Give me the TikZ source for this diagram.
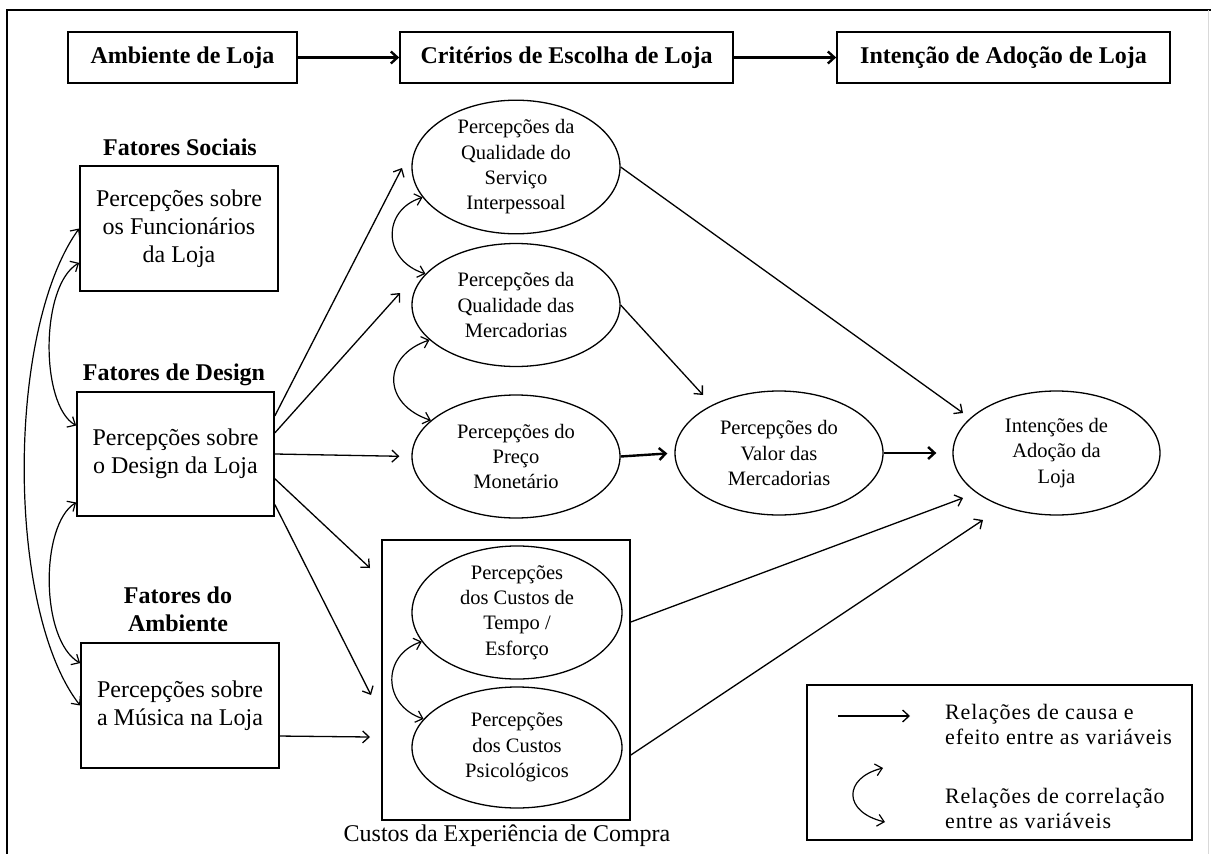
\documentclass[tikz,border=0pt]{standalone}
\usepackage{fontspec}
\setmainfont{Liberation Serif}
\newfontfamily\lgfamily[LetterSpace=4]{Liberation Serif}
\usetikzlibrary{arrows.meta,shapes.geometric,calc}

\newcommand\hdfont{\fontsize{24}{28}\selectfont\bfseries}
\newcommand\bxfont{\fontsize{24}{28}\selectfont}
\newcommand\elfont{\fontsize{20.5}{25.3}\selectfont}
\newcommand\lgfont{\lgfamily\fontsize{22}{25.5}\selectfont}

\begin{document}
\begin{tikzpicture}[x=1pt,y=-1pt,
  barb/.tip={Straight Barb[length=6.5pt,width=12pt]},
  box/.style={draw, line width=1.7pt, inner sep=0pt, align=center},
  hdbox/.style={box, font=\hdfont, minimum height=51pt},
  vbox/.style={box, font=\bxfont, minimum width=198pt, minimum height=125pt},
  ell/.style={draw, ellipse, line width=1.3pt, inner sep=0pt, align=center,
              font=\elfont, minimum width=208pt, minimum height=123pt},
  lbl/.style={font=\hdfont, align=center, inner sep=0pt},
  cause/.style={-barb, line width=1.3pt},
  strong/.style={-barb, line width=2.4pt},
  corr/.style={barb-barb, line width=1.2pt},
]
\useasboundingbox (0,0) rectangle (1211,854);
\fill[white] (0,0) rectangle (1211,854);

% outer frame
\draw[line width=2pt] (7,854) -- (7,10) -- (1211,10);
\draw[black!15, line width=1pt] (1208,10) -- (1208,854);

% header row
\node[hdbox, minimum width=229pt] (h1) at (182.5,57.5) {Ambiente de Loja};
\node[hdbox, minimum width=333pt] (h2) at (566.5,57.5) {Critérios de Escolha de Loja};
\node[hdbox, minimum width=333pt] (h3) at (1003.5,57.5) {Intenção de Adoção de Loja};
\draw[strong] (h1) -- (h2);
\draw[strong] (h2) -- (h3);

% left column: environment factors
\node[lbl] (lsoc) at (180,147) {Fatores Sociais};
\node[vbox] (soc) at (179,228.5) {Percepções sobre\\os Funcionários\\da Loja};
\node[lbl] (ldes) at (174,375) {Fatores de Design};
\node[vbox, minimum width=197pt, minimum height=124pt] (des) at (175.5,454) {Percepções sobre\\o Design da Loja};
\node[lbl] (lamb) at (178,609) {Fatores do\\Ambiente};
\node[vbox] (mus) at (180,705.5) {Percepções sobre\\a Música na Loja};

% store choice criteria
\node[ell, minimum height=122pt] (e1) at (516,167) {Percepções da\\Qualidade do\\Serviço\\Interpessoal};
\node[ell] (e2) at (516,305) {Percepções da\\Qualidade das\\Mercadorias};
\node[ell] (e3) at (516,456.5) {Percepções do\\Preço\\Monetário};
\node[ell, minimum height=124pt] (val) at (779,453) {Percepções do\\Valor das\\Mercadorias};
\node[ell, minimum width=207pt, minimum height=124pt] (int) at (1056.5,453) {Intenções de\\Adoção da\\Loja};

% shopping experience costs
\node[box, minimum width=248pt, minimum height=280pt] (cost) at (506,680) {};
\node[ell, minimum width=210pt, minimum height=125pt] (tmp) at (517,612.5) {Percepções\\dos Custos de\\Tempo /\\Esforço};
\node[ell, minimum width=210pt, minimum height=121pt] (psi) at (517,747.5) {Percepções\\dos Custos\\Psicológicos};
\node[font=\bxfont, inner sep=0pt] (cap) at (507,836) {Custos da Experiência de Compra};

% arrow end points
\coordinate (t1) at (402,168);
\coordinate (t2) at (400,293);
\coordinate (t4) at (370,568);
\coordinate (t5) at (371,695);
\coordinate (t6) at (370,737);
\coordinate (t7) at (963,413);
\coordinate (t8) at (703,395);
\coordinate (t9) at (963,498);
\coordinate (t10) at (983,520);

% causal paths
\draw[cause] (des.21.6) -- (t1);
\draw[cause] (des.12.6) -- (t2);
\draw[cause, shorten >=12pt] (des.east) -- (e3.west);
\draw[cause] (des.-14.8) -- (t4);
\draw[cause] (des.-27.4) -- (t5);
\draw[cause] (mus.-17.7) -- (t6);
\draw[cause] (e1.east) -- (t7);
\draw[cause] (e2.east) -- (t8);
\draw[strong, shorten >=7pt] (e3.east) -- (val.west);
\draw[strong, shorten >=16pt] (val.east) -- (int.west);
\draw[cause] ($(cost.east)+(0,-58)$) -- (t9);
\draw[cause] ($(cost.east)+(0,75)$) -- (t10);

% correlations
\draw[corr] (soc.west) .. controls (6,330) and (6,610) .. (mus.west);
\draw[corr] (soc.199) .. controls (40,285) and (40,405) .. (des.164);
\draw[corr] (des.206) .. controls (40,525) and (40,640) .. (mus.157);
\draw[corr] (e1.198) .. controls (382,210) and (382,260) .. (e2.161);
\draw[corr] (e2.202) .. controls (382,356) and (382,404) .. (e3.157);
\draw[corr] (tmp.197) .. controls (382,655) and (382,705) .. (psi.163);

% legend
\node[box, minimum width=385pt, minimum height=155pt] (leg) at (999.5,762.5) {};
\coordinate (la1) at (838,716);
\coordinate (la2) at (910,716);
\coordinate (lc1) at (883,768);
\coordinate (lc2) at (885,822);
\draw[cause] (la1) -- (la2);
\draw[corr] (lc1) .. controls (843,778) and (843,812) .. (lc2);
\node[font=\lgfont, align=left, anchor=west, inner sep=0pt] (lt1) at (945,724.5) {Relações de causa e\\efeito entre as variáveis};
\node[font=\lgfont, align=left, anchor=west, inner sep=0pt] (lt2) at (945,808.5) {Relações de correlação\\entre as variáveis};
\end{tikzpicture}
\end{document}
